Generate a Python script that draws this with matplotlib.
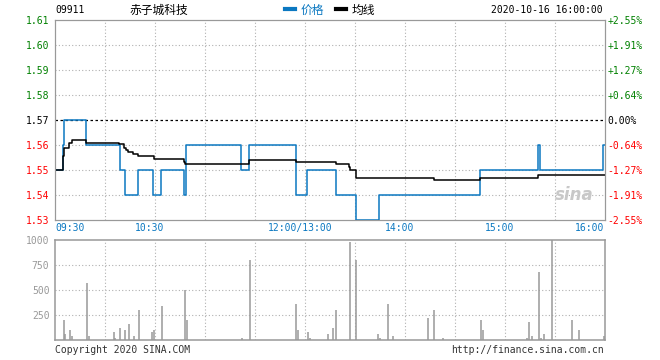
import matplotlib
matplotlib.use('Agg')
import matplotlib.pyplot as plt
from matplotlib.lines import Line2D

# 时间: 09:30 起的交易分钟数 (午休去掉, 150 = 12:00/13:00, 330 = 16:00)
price_t = [0, 4.7, 5.6, 18.5, 38.9, 41.9, 50.0, 58.7, 63.8, 77.3, 78.8, 111.8, 116.6,
           144.5, 151.4, 168.5, 180.5, 194.6, 255.2, 290.0, 291.2, 329.0, 330]
price_v = [1.55, 1.56, 1.57, 1.56, 1.55, 1.54, 1.55, 1.54, 1.55, 1.54, 1.56, 1.55, 1.56,
           1.54, 1.55, 1.54, 1.53, 1.54, 1.55, 1.56, 1.55, 1.56, 1.56]

avg_t = [0, 4.7, 5.6, 8.6, 10.0, 18.8, 38.6, 41.6, 42.8, 44.0, 47.0, 50.0, 59.6, 77.6,
         78.2, 116.6, 144.5, 168.5, 176.6, 177.2, 180.5, 227.3, 255.0, 290.0, 330]
avg_v = [1.5500, 1.5556, 1.5589, 1.5609, 1.5621, 1.5609, 1.5604, 1.5589, 1.5579, 1.5573,
         1.5565, 1.5556, 1.5545, 1.5532, 1.5523, 1.5541, 1.5531, 1.5523, 1.5512, 1.5501,
         1.5469, 1.5461, 1.5469, 1.5481, 1.5481]

vol_t = [5.6, 6.2, 9.2, 10.4, 19.4, 20.6, 35.6, 36.2, 39.2, 42.2, 44.6, 47.6, 50.6, 58.4,
         59.6, 64.4, 78.2, 79.4, 112.4, 117.2, 144.8, 146.0, 152.0, 153.2, 164.0, 167.0,
         168.8, 177.2, 180.8, 194.0, 195.2, 200.0, 203.0, 224.0, 227.6, 233.0, 255.8,
         257.0, 283.4, 284.6, 286.4, 290.6, 291.8, 293.6, 298.4, 310.4, 314.6, 329.6]
vol_v = [200, 60, 100, 40, 570, 40, 80, 20, 120, 100, 160, 40, 300, 80,
         100, 340, 500, 200, 20, 800, 360, 100, 80, 20, 60, 120,
         300, 985, 800, 60, 20, 360, 40, 220, 300, 20, 200,
         100, 20, 180, 40, 680, 20, 60, 1200, 200, 100, 40]

prev_close = 1.57
price_ticks = [1.53, 1.54, 1.55, 1.56, 1.57, 1.58, 1.59, 1.60, 1.61]
vol_ticks = [250, 500, 750, 1000]
time_ticks = [0, 60, 150, 210, 270, 330]
time_labels = ['09:30', '10:30', '12:00/13:00', '14:00', '15:00', '16:00']

BLUE = '#0B78C1'
GREEN = '#008000'
RED = '#FF0000'
GRAY = '#999999'
MONO = 'DejaVu Sans Mono'
CJK = ['Noto Sans CJK SC', 'DejaVu Sans']
FS = 7

W, H = 660, 360
fig = plt.figure(figsize=(W / 100, H / 100), dpi=100)
fig.patch.set_facecolor('white')

ax = fig.add_axes([55 / W, 1 - 220 / H, 550 / W, 200 / H])
axv = fig.add_axes([55 / W, 1 - 340 / H, 550 / W, 100 / H])

grid_kw = dict(color='#b0b0b0', linestyle=(0, (1, 2)), linewidth=0.8, zorder=1)

# --- 价格面板 ---
ax.set_xlim(0, 330)
ax.set_ylim(1.53, 1.61)
for p in price_ticks[1:-1]:
    if abs(p - prev_close) < 1e-9:
        ax.axhline(p, color='black', linestyle=(0, (2, 2)), linewidth=0.9, zorder=1)
    else:
        ax.axhline(p, **grid_kw)
for t in range(30, 330, 30):
    ax.axvline(t, **grid_kw)

ax.plot(price_t, price_v, drawstyle='steps-post', color=BLUE, linewidth=1.1, zorder=3)
ax.plot(avg_t, avg_v, drawstyle='steps-post', color='black', linewidth=1.1, zorder=4)

for s in ax.spines.values():
    s.set_color(GRAY)
ax.tick_params(length=0)
ax.set_yticks(price_ticks)
ax.set_yticklabels([f'{p:.2f}' for p in price_ticks], fontfamily=MONO, fontsize=FS)
for lbl, p in zip(ax.get_yticklabels(), price_ticks):
    lbl.set_color(GREEN if p > prev_close + 1e-9 else (RED if p < prev_close - 1e-9 else 'black'))
ax.tick_params(axis='y', pad=4)
ax.set_xticks([])

axr = ax.twinx()
axr.set_ylim(ax.get_ylim())
axr.set_yticks(price_ticks)
pct_labels = []
for p in price_ticks:
    pct = (p - prev_close) / prev_close * 100
    pct_labels.append('0.00%' if abs(pct) < 1e-6 else f'{pct:+.2f}%')
axr.set_yticklabels(pct_labels, fontfamily=MONO, fontsize=FS)
for lbl, p in zip(axr.get_yticklabels(), price_ticks):
    lbl.set_color(GREEN if p > prev_close + 1e-9 else (RED if p < prev_close - 1e-9 else 'black'))
axr.tick_params(length=0, pad=2)
for s in axr.spines.values():
    s.set_color(GRAY)

# 时间标签
for t, lab in zip(time_ticks, time_labels):
    if t == 0:
        ha, dx = 'left', 0
    elif t == 330:
        ha, dx = 'right', -1
    else:
        ha, dx = 'center', -5
    ax.annotate(lab, xy=(t, 0), xycoords=('data', 'axes fraction'),
                xytext=(dx, -3), textcoords='offset pixels', ha=ha, va='top',
                color=BLUE, fontfamily=MONO, fontsize=FS)

# 新浪水印
ax.text(0.98, 0.08, 'sina', transform=ax.transAxes, ha='right', va='bottom',
        fontsize=12, fontweight='bold', style='italic', color='#c8c8c8', zorder=2)

# --- 成交量面板 ---
axv.set_xlim(0, 330)
axv.set_ylim(0, 1000)
for v in vol_ticks[:-1]:
    axv.axhline(v, **grid_kw)
for t in range(30, 330, 30):
    axv.axvline(t, **grid_kw)
axv.vlines(vol_t, 0, vol_v, colors=GRAY, linewidth=1.1, zorder=3)
for s in axv.spines.values():
    s.set_color(GRAY)
    s.set_linewidth(1.1)
axv.tick_params(length=0, pad=4)
axv.set_xticks([])
axv.set_yticks(vol_ticks)
axv.set_yticklabels([str(v) for v in vol_ticks], fontfamily=MONO, fontsize=FS, color=GRAY)

# --- 标题行 ---
fig.text(55 / W, 1 - 10 / H, '09911', ha='left', va='center', fontfamily=MONO, fontsize=FS)
fig.text(129 / W, 1 - 10 / H, '赤子城科技', ha='left', va='center', family=CJK, fontsize=8.5)
fig.text(603 / W, 1 - 10 / H, '2020-10-16 16:00:00', ha='right', va='center',
         fontfamily=MONO, fontsize=FS)

handles = [Line2D([], [], color=BLUE, linewidth=3), Line2D([], [], color='black', linewidth=3)]
leg = fig.legend(handles, ['价格', '均线'], ncol=2, loc='center',
                 bbox_to_anchor=(330 / W, 1 - 10 / H), frameon=False,
                 prop={'family': CJK, 'size': 8.5}, handlelength=0.85,
                 handletextpad=0.5, columnspacing=1.0, borderpad=0, borderaxespad=0)
leg.get_texts()[0].set_color(BLUE)

# --- 页脚 ---
fig.text(55 / W, 1 - 350 / H, 'Copyright 2020 SINA.COM', ha='left', va='center',
         fontfamily=MONO, fontsize=FS, color='#333333')
fig.text(604 / W, 1 - 350 / H, 'http://finance.sina.com.cn', ha='right', va='center',
         fontfamily=MONO, fontsize=FS, color='#333333')

fig.savefig('out.png', dpi=100)
